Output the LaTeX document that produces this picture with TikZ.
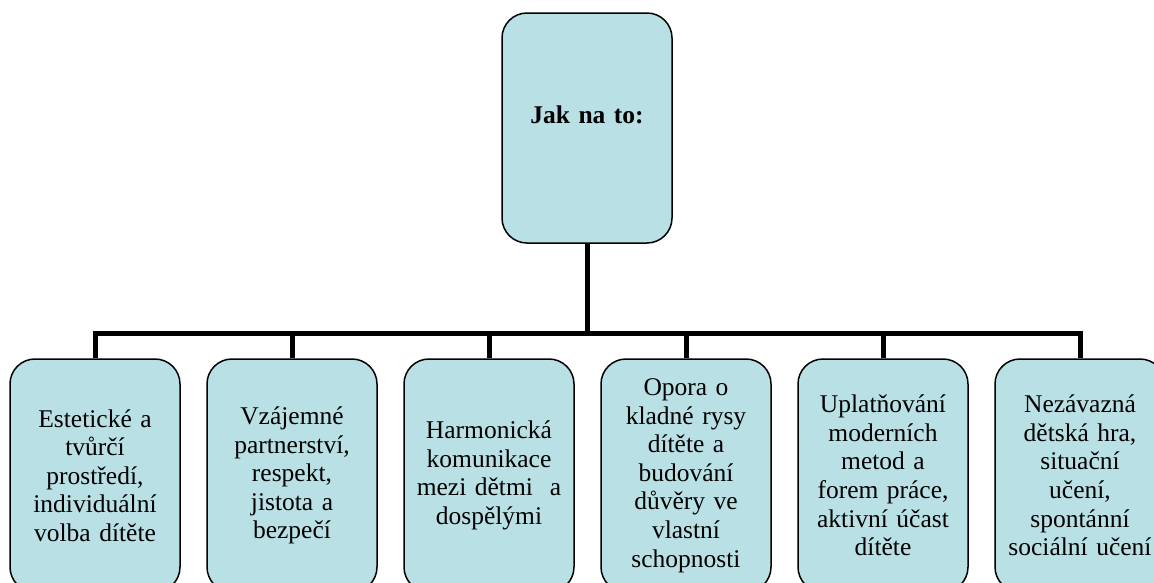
\documentclass[tikz,border=0pt]{standalone}
\usepackage{fontspec}
\setmainfont{Liberation Serif}
\usetikzlibrary{positioning}
\definecolor{boxfill}{RGB}{185,224,228}

\begin{document}
\begin{tikzpicture}[x=1pt, y=-1pt, node distance=25.5pt,
    box/.style={draw, line width=1.5pt, fill=boxfill, rounded corners=25pt,
        minimum width=170pt, minimum height=233pt, text width=160pt,
        align=center, inner sep=0pt, font=\fontsize{25.5}{28.6}\selectfont},
    conn/.style={line width=5pt}]
    \useasboundingbox (0,0) rectangle (1154,582);
    \node [box, minimum height=230pt, text depth=26pt] (top) at (587,128) {\textbf{Jak na to:}};
    \node [box] (b1) at (95,475.5) {Estetické a\\ tvůrčí\\ prostředí,\\ individuální\\ volba dítěte};
    \node [box, right=of b1] (b2) {Vzájemné\\ partnerství,\\ respekt,\\ jistota a\\ bezpečí};
    \node [box, right=of b2] (b3) {Harmonická\\ komunikace\\ mezi dětmi \ a\\ dospělými};
    \node [box, right=of b3] (b4) {Opora o\\ kladné rysy\\ dítěte a\\ budování\\ důvěry ve\\ vlastní\\ schopnosti};
    \node [box, right=of b4] (b5) {Uplatňování\\ moderních\\ metod a\\ forem práce,\\ aktivní účast\\ dítěte};
    \node [box, right=of b5] (b6) {Nezávazná\\ dětská hra,\\ situační\\ učení,\\ spontánní\\ sociální učení};
    \foreach \i in {1,...,6}
        \draw [conn] (top.south) -- ++(0,90) -| (b\i.north);
\end{tikzpicture}
\end{document}
